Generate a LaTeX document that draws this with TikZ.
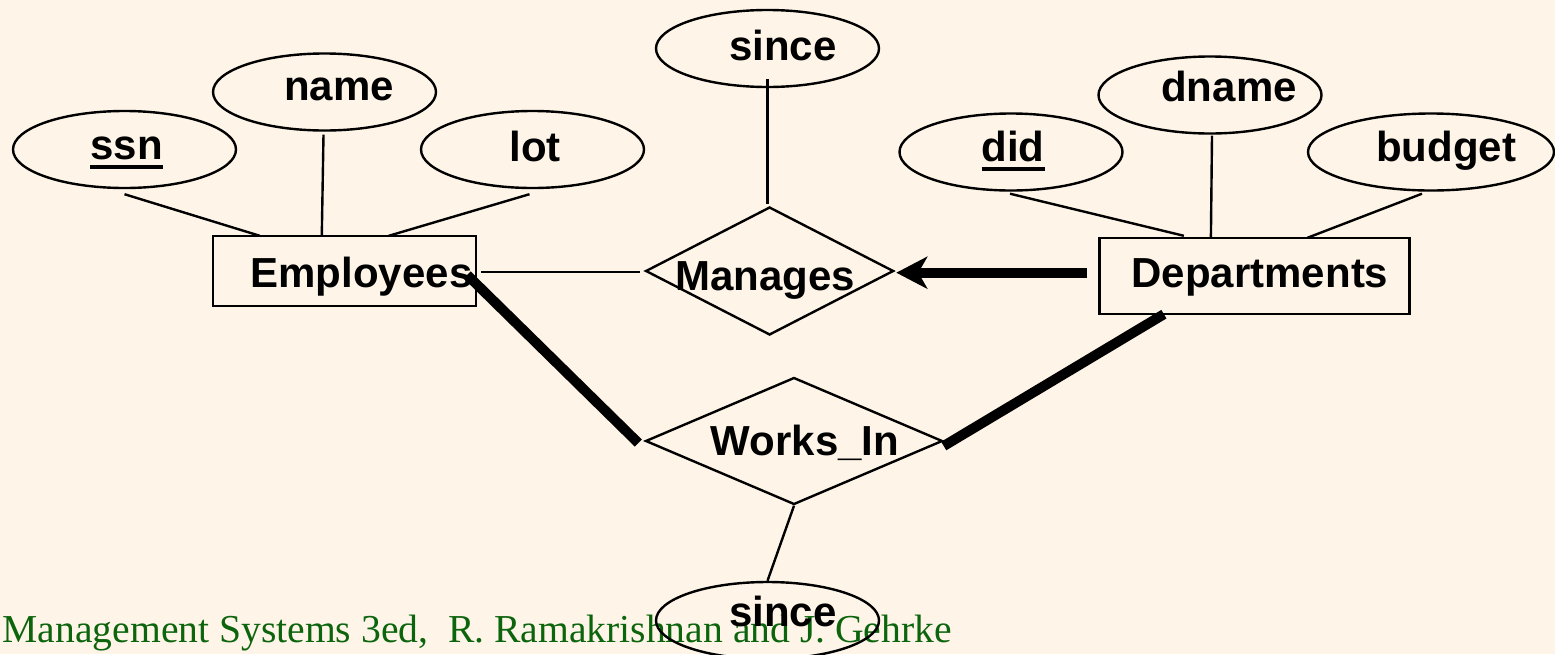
\documentclass[tikz,border=0pt]{standalone}
\usepackage{fontspec}
\setmainfont{Liberation Sans}
\newfontfamily\footfont{Liberation Serif}
\usetikzlibrary{shapes.geometric,arrows.meta,calc}
\definecolor{bg}{HTML}{FEF5E8}
\definecolor{footgreen}{RGB}{12,100,12}
\newcommand\ulin[1]{\vtop{\hbox{#1}\kern5pt\hrule height 4pt}}
\tikzset{
 attr/.style={draw, ellipse, line width=2.4pt, minimum width=223pt, minimum height=77pt, inner sep=0pt},
 entity/.style={draw, rectangle, line width=2.4pt, inner sep=0pt},
 rel/.style={draw, diamond, line width=2.4pt, inner sep=0pt},
 txt/.style={anchor=base, inner sep=0pt, font=\fontsize{42}{50}\selectfont\bfseries},
 conn/.style={line width=2.4pt},
 heavy/.style={line width=10pt},
}
\begin{document}
\begin{tikzpicture}[x=1pt,y=-1pt]
\fill[bg] (0,0) rectangle (1555,654);
\useasboundingbox (0,0) rectangle (1555,654);

% footer
\node[anchor=base east, inner sep=0pt, font=\footfont\fontsize{39.6}{46}\selectfont, text=footgreen] (foot) at (952,642) {Management Systems 3ed,\ \ R. Ramakrishnan and J. Gehrke};

% entities
\node[entity, minimum width=263pt, minimum height=70pt] (emp) at (344.5,271) {};
\node[entity, minimum width=310pt, minimum height=76pt] (dept) at (1254.6,276) {};
% relationships
\node[rel, minimum width=248pt, minimum height=128pt] (manages) at (769.6,271) {};
\node[rel, minimum width=297pt, minimum height=127pt] (worksin) at (794,441) {};
% attributes
\node[attr] (ssn) at (124.5,149.5) {};
\node[attr] (name) at (324.5,92) {};
\node[attr] (lot) at (532.5,149.5) {};
\node[attr] (since1) at (767.5,48.5) {};
\node[attr] (did) at (1011,152) {};
\node[attr] (dname) at (1210,95) {};
\node[attr, minimum width=246pt] (budget) at (1431,152) {};
\node[attr] (since2) at (767.5,620.5) {};

% texts
\node[txt] (empT) at (361.5,287) {Employees};
\node[txt] (deptT) at (1260,287) {Departments};
\node[txt] (managesT) at (765,290) {Manages};
\node[txt] (worksinT) at (805,455) {Works\_In};
\node[txt] (ssnT) at (126.5,159.5) {\ulin{ssn}};
\node[txt] (nameT) at (339,100) {name};
\node[txt] (lotT) at (535,161) {lot};
\node[txt] (since1T) at (783,60) {since};
\node[txt] (didT) at (1013,161.5) {\ulin{did}};
\node[txt] (dnameT) at (1229,101) {dname};
\node[txt] (budgetT) at (1446,161.5) {budget};
\node[txt] (since2T) at (783,626.7) {since};

% attribute connectors
\draw[conn] ($(ssn.south)+(0,5)$) -- ($(emp.north west)+(48,1)$);
\draw[conn] ($(name.south)+(-1,3)$) -- ($(emp.north west)+(110,0)$);
\draw[conn] ($(lot.south)+(-3,5)$) -- ($(emp.north west)+(177,1)$);
\draw[conn] ($(did.south)+(-1,2)$) -- ($(dept.north west)+(85.5,-1)$);
\draw[conn] ($(dname.south)+(2,1)$) -- ($(dept.north west)+(112.5,0)$);
\draw[conn] ($(budget.south)+(-9,2)$) -- ($(dept.north west)+(209,1)$);
\draw[conn] ($(since1.south)+(0,-9)$) -- ($(since1.south |- manages.north)+(0,-2)$);
\draw[conn] (worksin.south) -- (since2.north);

% relationship connectors
\draw[conn] ($(emp.east)+(4,1)$) -- ($(manages.west)+(-4,1)$);
\draw[heavy, -{Stealth[length=31pt,width=32pt,inset=9pt]}] ($(dept.west)+(-11,-3.3)$) -- ($(manages.east)+(1.5,1.7)$);
\draw[heavy] ($(emp.east)+(-10,4)$) -- ($(worksin.west)+(-6,2)$);
\draw[heavy] ($(dept.south west)+(65.5,-1)$) -- ($(worksin.east)+(0,5)$);
\end{tikzpicture}
\end{document}
